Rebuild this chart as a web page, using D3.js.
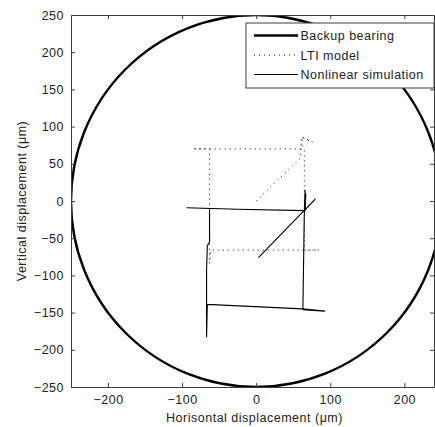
<!DOCTYPE html>
<html>
<head>
<meta charset="utf-8">
<script src="https://cdn.jsdelivr.net/npm/d3@7"></script>
<style>
  html, body { margin: 0; padding: 0; background: #fff; }
  svg { display: block; }
  text { font-family: "Liberation Sans", Arial, sans-serif; letter-spacing: 0.5px; }
</style>
</head>
<body>
<script>
// Rotor orbit inside the backup bearing clearance (units: µm)
const bearingRadius = 250;

// LTI model orbit (dotted)
const ltiX = [0, 60, 61, 76, 62, 62, -86, -63, -63, -61, 85, 65, 65];
const ltiY = [0, 58, 86, 79, 86, 70, 70, 70, -84, -66, -66, -66, 70];

// Nonlinear simulation orbit (solid)
const simX = [3, 80, 65, 66, 66, 67, 66, -25, -94, -63, -63, -66, -67, -67, -66, 62, 93, 63, 65];
const simY = [-76, 3, -13, 15, -13, 10, -13, -11, -9, -10, -55, -60, -93, -183, -139, -145, -148, -146, -13];

const xTicks = [-200, -100, 0, 100, 200];
const yTicks = [-250, -200, -150, -100, -50, 0, 50, 100, 150, 200, 250];

const legendLabels = ["Backup bearing", "LTI model", "Nonlinear simulation"];

const W = 435, H = 427;
const m = { left: 71, top: 15, right: 434, bottom: 387 };
const axisColor = "#3c3c3c";
const fontSize = "12.5px";

const svg = d3.select("body").append("svg").attr("width", W).attr("height", H);

const x = d3.scaleLinear().domain([-250, 240]).range([m.left, m.right]);
const y = d3.scaleLinear().domain([-250, 250]).range([m.bottom, m.top]);

svg.append("defs").append("clipPath").attr("id", "plotClip")
  .append("rect").attr("x", m.left).attr("y", m.top)
  .attr("width", m.right - m.left).attr("height", m.bottom - m.top);

const plot = svg.append("g").attr("clip-path", "url(#plotClip)");

// Backup bearing clearance circle
plot.append("ellipse")
  .attr("cx", x(0)).attr("cy", y(0))
  .attr("rx", x(bearingRadius) - x(0)).attr("ry", y(0) - y(bearingRadius))
  .attr("fill", "none").attr("stroke", "#000").attr("stroke-width", 2.4);

const line = d3.line().x(d => x(d[0])).y(d => y(d[1]));

// LTI model
plot.append("path")
  .attr("d", line(ltiX.map((v, i) => [v, ltiY[i]])))
  .attr("fill", "none").attr("stroke", "#000").attr("stroke-width", 1)
  .attr("stroke-dasharray", "1,4");

// Nonlinear simulation
plot.append("path")
  .attr("d", line(simX.map((v, i) => [v, simY[i]])))
  .attr("fill", "none").attr("stroke", "#000").attr("stroke-width", 1.1)
  .attr("stroke-linejoin", "miter");

// Axes box with inward ticks on all four sides
const tickLen = 4;
const xAxisB = d3.axisBottom(x).tickValues(xTicks).tickSizeInner(-tickLen).tickSizeOuter(0).tickPadding(8);
const xAxisT = d3.axisTop(x).tickValues(xTicks).tickSizeInner(-tickLen).tickSizeOuter(0).tickFormat("");
const yAxisL = d3.axisLeft(y).tickValues(yTicks).tickSizeInner(-tickLen).tickSizeOuter(0).tickPadding(7);
const yAxisR = d3.axisRight(y).tickValues(yTicks).tickSizeInner(-tickLen).tickSizeOuter(0).tickFormat("");

function styleAxis(g) {
  g.selectAll("path, line").attr("stroke", axisColor);
  g.selectAll("text").attr("fill", "#222").style("font-size", fontSize)
    .style("font-family", "'Liberation Sans', Arial, sans-serif");
}

svg.append("g").attr("transform", `translate(0,${m.bottom})`).call(xAxisB).call(styleAxis);
svg.append("g").attr("transform", `translate(0,${m.top})`).call(xAxisT).call(styleAxis);
svg.append("g").attr("transform", `translate(${m.left},0)`).call(yAxisL).call(styleAxis);
svg.append("g").attr("transform", `translate(${m.right},0)`).call(yAxisR).call(styleAxis);

// Axis titles
svg.append("text")
  .attr("x", (m.left + m.right) / 2 + 2).attr("y", 422)
  .attr("text-anchor", "middle").attr("fill", "#222").style("font-size", fontSize)
  .text("Horisontal displacement (μm)");

svg.append("text")
  .attr("transform", `translate(26,${(m.top + m.bottom) / 2}) rotate(-90)`)
  .attr("text-anchor", "middle").attr("fill", "#222").style("font-size", fontSize)
  .text("Vertical displacement (μm)");

// Legend
const lg = svg.append("g");
const lgX0 = 246, lgY0 = 23, lgW = 188, lgH = 65;
lg.append("rect").attr("x", lgX0).attr("y", lgY0).attr("width", lgW).attr("height", lgH)
  .attr("fill", "#fff").attr("stroke", axisColor).attr("stroke-width", 1);

const rowY = [35.5, 55, 74.5];
const legendStyles = [
  { w: 2.4, dash: null },
  { w: 1, dash: "1,4" },
  { w: 1.1, dash: null }
];
legendLabels.forEach((lab, i) => {
  lg.append("line")
    .attr("x1", 254).attr("x2", 298).attr("y1", rowY[i]).attr("y2", rowY[i])
    .attr("stroke", "#000").attr("stroke-width", legendStyles[i].w)
    .attr("stroke-dasharray", legendStyles[i].dash);
  lg.append("text")
    .attr("x", 300.5).attr("y", rowY[i]).attr("dy", "0.36em")
    .attr("fill", "#222").style("font-size", fontSize)
    .text(lab);
});
</script>
</body>
</html>
